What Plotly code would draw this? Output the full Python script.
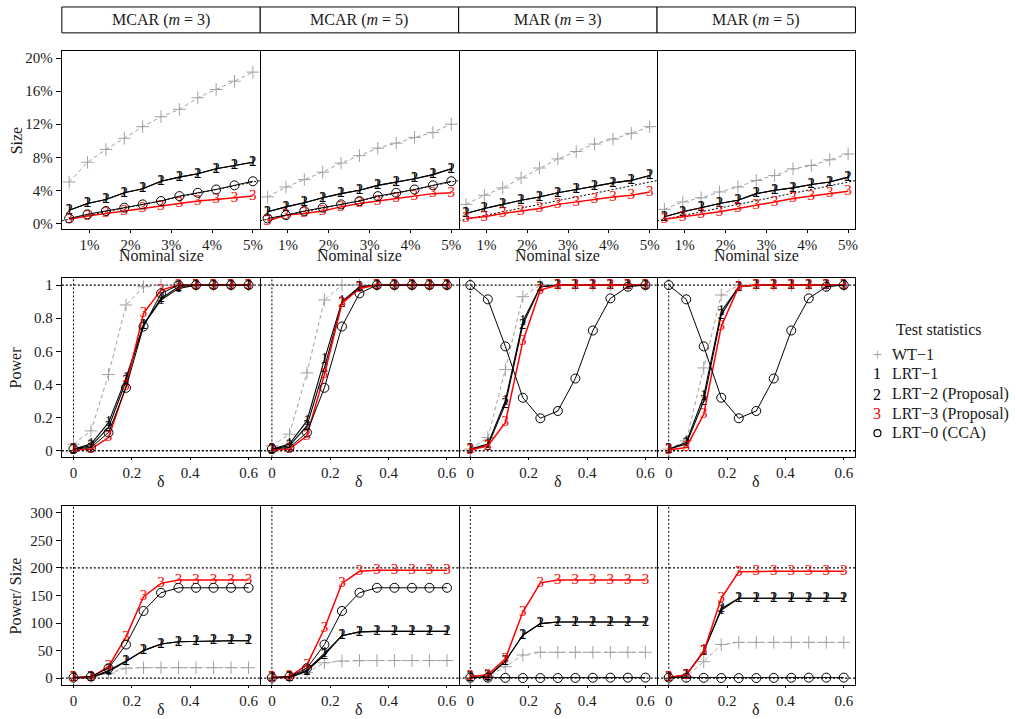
import plotly.graph_objects as go

W, H = 1016, 719
FONT = "Liberation Serif"

# ---- data -------------------------------------------------------------
strip_labels = ["MCAR (<i>m</i> = 3)", "MCAR (<i>m</i> = 5)",
                "MAR (<i>m</i> = 3)", "MAR (<i>m</i> = 5)"]

nominal = [0.5, 0.95, 1.4, 1.85, 2.3, 2.75, 3.2, 3.65, 4.1, 4.55, 5.0]
delta = [0, 0.06, 0.12, 0.18, 0.24, 0.30, 0.36, 0.42, 0.48, 0.54, 0.60]

# empirical size (%), one list per panel
size_wt1 = [
    [5.0, 7.4, 8.95, 10.3, 11.7, 12.9, 13.8, 15.2, 16.2, 17.2, 18.3],
    [3.2, 4.4, 5.3, 6.2, 7.3, 8.2, 9.1, 9.7, 10.4, 11.0, 12.0],
    [2.3, 3.4, 4.3, 5.5, 6.7, 7.8, 8.7, 9.6, 10.2, 10.9, 11.7],
    [1.7, 2.6, 3.1, 3.8, 4.4, 5.2, 5.8, 6.6, 7.0, 7.7, 8.4],
]
size_lrt1 = [
    [1.6, 2.4, 2.9, 3.7, 4.2, 5.1, 5.6, 6.0, 6.6, 7.0, 7.4],
    [1.4, 2.0, 2.5, 3.1, 3.6, 4.0, 4.6, 5.0, 5.4, 5.9, 6.6],
    [1.2, 1.8, 2.3, 2.8, 3.2, 3.7, 4.1, 4.5, 4.9, 5.2, 5.8],
    [0.8, 1.4, 1.9, 2.4, 2.8, 3.6, 4.0, 4.3, 4.7, 5.0, 5.6],
]
size_lrt2 = [
    [1.6, 2.4, 2.9, 3.7, 4.2, 5.1, 5.6, 6.0, 6.6, 7.0, 7.4],
    [1.4, 2.0, 2.5, 3.1, 3.6, 4.0, 4.6, 5.0, 5.4, 5.9, 6.6],
    [1.2, 1.8, 2.3, 2.8, 3.2, 3.7, 4.1, 4.5, 4.9, 5.2, 5.8],
    [0.8, 1.4, 1.9, 2.4, 2.8, 3.6, 4.0, 4.3, 4.7, 5.0, 5.6],
]
size_lrt3 = [
    [0.5, 0.9, 1.2, 1.5, 1.8, 2.1, 2.4, 2.7, 2.9, 3.1, 3.3],
    [0.3, 1.0, 1.2, 1.5, 2.0, 2.4, 2.7, 3.0, 3.3, 3.6, 3.7],
    [0.6, 0.8, 1.2, 1.5, 1.8, 2.3, 2.6, 2.9, 3.2, 3.4, 3.8],
    [0.5, 0.8, 1.1, 1.4, 1.8, 2.2, 2.6, 3.0, 3.3, 3.6, 3.9],
]
size_lrt0 = [
    [0.6, 1.1, 1.5, 1.9, 2.3, 2.7, 3.3, 3.7, 4.1, 4.6, 5.1],
    [0.6, 1.0, 1.5, 1.9, 2.3, 2.7, 3.3, 3.7, 4.1, 4.6, 5.1],
    None,
    None,
]

# empirical power, one list per panel
power_wt1 = [
    [0.04, 0.12, 0.46, 0.88, 0.99, 1.0, 1.0, 1.0, 1.0, 1.0, 1.0],
    [0.03, 0.10, 0.47, 0.91, 1.0, 1.0, 1.0, 1.0, 1.0, 1.0, 1.0],
    [0.01, 0.08, 0.49, 0.93, 1.0, 1.0, 1.0, 1.0, 1.0, 1.0, 1.0],
    [0.01, 0.06, 0.50, 0.94, 1.0, 1.0, 1.0, 1.0, 1.0, 1.0, 1.0],
]
power_lrt1 = [
    [0.01, 0.04, 0.17, 0.44, 0.76, 0.91, 0.98, 1.0, 1.0, 1.0, 1.0],
    [0.01, 0.04, 0.18, 0.55, 0.90, 0.99, 1.0, 1.0, 1.0, 1.0, 1.0],
    [0.01, 0.04, 0.30, 0.78, 0.99, 1.0, 1.0, 1.0, 1.0, 1.0, 1.0],
    [0.01, 0.05, 0.33, 0.84, 0.99, 1.0, 1.0, 1.0, 1.0, 1.0, 1.0],
]
power_lrt2 = [
    [0.01, 0.03, 0.14, 0.42, 0.76, 0.92, 0.99, 1.0, 1.0, 1.0, 1.0],
    [0.01, 0.03, 0.15, 0.50, 0.89, 0.99, 1.0, 1.0, 1.0, 1.0, 1.0],
    [0.01, 0.03, 0.28, 0.76, 0.99, 1.0, 1.0, 1.0, 1.0, 1.0, 1.0],
    [0.01, 0.04, 0.30, 0.82, 0.99, 1.0, 1.0, 1.0, 1.0, 1.0, 1.0],
]
power_lrt3 = [
    [0.005, 0.01, 0.08, 0.39, 0.83, 0.97, 1.0, 1.0, 1.0, 1.0, 1.0],
    [0.005, 0.01, 0.09, 0.46, 0.89, 0.98, 1.0, 1.0, 1.0, 1.0, 1.0],
    [0.005, 0.03, 0.17, 0.66, 0.97, 1.0, 1.0, 1.0, 1.0, 1.0, 1.0],
    [0.005, 0.02, 0.22, 0.75, 0.99, 1.0, 1.0, 1.0, 1.0, 1.0, 1.0],
]
power_lrt0 = [
    [0.01, 0.02, 0.11, 0.38, 0.75, 0.95, 1.0, 1.0, 1.0, 1.0, 1.0],
    [0.01, 0.02, 0.11, 0.38, 0.75, 0.95, 1.0, 1.0, 1.0, 1.0, 1.0],
    [1.0, 0.914, 0.63, 0.32, 0.196, 0.24, 0.436, 0.726, 0.92, 0.99, 1.0],
    [1.0, 0.914, 0.63, 0.32, 0.196, 0.24, 0.436, 0.726, 0.92, 0.99, 1.0],
]

# power divided by size, one list per panel
ratio_wt1 = [
    [1, 2, 9, 18, 19, 19, 19, 19, 19, 19, 19],
    [1, 2, 10, 28, 31, 32, 32, 32, 32, 32, 32],
    [1, 3, 21, 42, 47, 47, 47, 47, 47, 47, 47],
    [1, 3, 30, 61, 65, 65, 65, 65, 65, 65, 65],
]
ratio_lrt1 = [
    [1, 1, 12, 30, 50, 62, 66, 67, 68, 68, 68],
    [1, 2, 15, 45, 77, 84, 85, 85, 85, 85, 85],
    [1, 2, 31, 78, 99, 102, 102, 102, 102, 102, 102],
    [1, 5, 50, 123, 145, 145, 145, 145, 145, 145, 145],
]
ratio_lrt2 = [
    [1, 1, 14, 31, 50, 62, 66, 67, 68, 68, 68],
    [1, 1, 13, 42, 77, 84, 85, 85, 85, 85, 85],
    [1, 3, 31, 78, 99, 102, 102, 102, 102, 102, 102],
    [1, 6, 48, 126, 145, 145, 145, 145, 145, 145, 145],
]
ratio_lrt3 = [
    [1, 2, 21, 75, 148, 172, 178, 178, 178, 178, 178],
    [1, 3, 24, 90, 172, 194, 196, 196, 196, 196, 196],
    [3, 6, 35, 120, 173, 178, 178, 178, 178, 178, 178],
    [1, 6, 48, 145, 193, 194, 194, 194, 194, 194, 194],
]
ratio_lrt0 = [
    [1, 3, 18, 61, 122, 155, 164, 164, 164, 164, 164],
    [1, 3, 18, 61, 122, 155, 164, 164, 164, 164, 164],
    [1.0, 0.9, 0.6, 0.3, 0.2, 0.24, 0.44, 0.73, 0.92, 0.99, 1.0],
    [1.0, 0.9, 0.6, 0.3, 0.2, 0.24, 0.44, 0.73, 0.92, 0.99, 1.0],
]

legend_labels = ["WT−1", "LRT−1", "LRT−2 (Proposal)", "LRT−3 (Proposal)", "LRT−0 (CCA)"]

# ---- styling ----------------------------------------------------------
GRAY = "#a0a0a0"
RED = "#ff0000"
INK = "#1a1a1a"
STYLE = {
    "wt1": dict(kind="plus", color=GRAY, width=1.0, dash="4px,3px"),
    "lrt1": dict(kind="text", sym="1", color="black", width=1.1, dash="solid"),
    "lrt2": dict(kind="text", sym="2", color="black", width=1.1, dash="solid"),
    "lrt3": dict(kind="text", sym="3", color=RED, width=1.5, dash="solid"),
    "lrt0": dict(kind="circle", color="black", width=1.0, dash="solid"),
}

rows = [
    dict(x=nominal, series=dict(wt1=size_wt1, lrt1=size_lrt1, lrt2=size_lrt2,
                                lrt3=size_lrt3, lrt0=size_lrt0),
         xrange=[0.32, 5.18], xtickvals=[1, 2, 3, 4, 5],
         xticktext=["1%", "2%", "3%", "4%", "5%"],
         yrange=[-0.72, 20.88], ytickvals=[0, 4, 8, 12, 16, 20],
         yticktext=["0%", "4%", "8%", "12%", "16%", "20%"],
         top=50, bottom=229.3, ytitle="Size", xtitle="Nominal size",
         ytitle_y=140, xtitle_y=256, ticklen=3, standoff=-1),
    dict(x=delta, series=dict(wt1=power_wt1, lrt1=power_lrt1, lrt2=power_lrt2,
                              lrt3=power_lrt3, lrt0=power_lrt0),
         xrange=[-0.04, 0.64], xtickvals=[0, 0.2, 0.4, 0.6],
         xticktext=["0", "0.2", "0.4", "0.6"],
         yrange=[-0.04, 1.042], ytickvals=[0, 0.2, 0.4, 0.6, 0.8, 1],
         yticktext=["0", "0.2", "0.4", "0.6", "0.8", "1"],
         top=278.3, bottom=458.3, ytitle="Power", xtitle="δ",
         ytitle_y=368, xtitle_y=483, hlines=[0, 1], ticklen=2, standoff=0),
    dict(x=delta, series=dict(wt1=ratio_wt1, lrt1=ratio_lrt1, lrt2=ratio_lrt2,
                              lrt3=ratio_lrt3, lrt0=ratio_lrt0),
         xrange=[-0.04, 0.64], xtickvals=[0, 0.2, 0.4, 0.6],
         xticktext=["0", "0.2", "0.4", "0.6"],
         yrange=[-12.1, 313.2], ytickvals=[0, 50, 100, 150, 200, 250, 300],
         yticktext=["0", "50", "100", "150", "200", "250", "300"],
         top=506.7, bottom=686.7, ytitle="Power/ Size", xtitle="δ",
         ytitle_y=597, xtitle_y=711, hlines=[0, 200], ticklen=2, standoff=0),
]

col_edges = [62, 261, 460, 659, 858]
STRIP_TOP, STRIP_BOTTOM = 6, 32


def px_x(v):
    return v / W


def px_y(v):
    return 1 - v / H


fig = go.Figure()
layout = dict(width=W, height=H, margin=dict(l=0, r=0, t=0, b=0),
              paper_bgcolor="white", plot_bgcolor="white", showlegend=False,
              font=dict(family=FONT, size=15, color=INK))
shapes, annotations = [], []

order = ["wt1", "lrt1", "lrt2", "lrt3", "lrt0"]

for r, row in enumerate(rows):
    for c in range(4):
        k = r * 4 + c + 1
        xa = "xaxis" if k == 1 else f"xaxis{k}"
        ya = "yaxis" if k == 1 else f"yaxis{k}"
        xr = "x" if k == 1 else f"x{k}"
        yr = "y" if k == 1 else f"y{k}"
        layout[xa] = dict(
            domain=[px_x(col_edges[c]), px_x(col_edges[c + 1])],
            anchor=yr, range=row["xrange"], tickvals=row["xtickvals"],
            ticktext=row["xticktext"], ticks="outside", ticklen=row["ticklen"],
            ticklabelstandoff=row["standoff"],
            tickcolor="black", showline=True, linecolor="black", linewidth=1,
            mirror=True, showgrid=False, zeroline=False,
            tickfont=dict(family=FONT, size=15, color=INK))
        # first panel draws both side borders; the others only their right
        # border, so shared dividers stay a single line
        layout[ya] = dict(
            domain=[px_y(row["bottom"]), px_y(row["top"])],
            anchor=xr, range=row["yrange"], tickvals=row["ytickvals"],
            ticktext=row["yticktext"], ticks="outside" if c == 0 else "",
            ticklen=5, tickcolor="black", showticklabels=(c == 0),
            side="left" if c == 0 else "right",
            showline=True, linecolor="black", linewidth=1, mirror=(c == 0),
            showgrid=False, zeroline=False,
            tickfont=dict(family=FONT, size=15, color=INK))

        # reference guides
        if r == 0:
            lo, hi = row["xrange"]
            shapes.append(dict(type="line", xref=xr, yref=yr, x0=lo, y0=lo,
                               x1=hi, y1=hi, layer="below",
                               line=dict(color="black", width=1, dash="2px,2px")))
        else:
            shapes.append(dict(type="line", xref=xr, yref=f"{yr} domain",
                               x0=0, x1=0, y0=0, y1=1, layer="below",
                               line=dict(color="black", width=1, dash="2px,2px")))
            for hv in row["hlines"]:
                shapes.append(dict(type="line", xref=f"{xr} domain", yref=yr,
                                   x0=0, x1=1, y0=hv, y1=hv, layer="below",
                                   line=dict(color="black", width=1.3,
                                             dash="2px,2px")))

        for key in order:
            vals = row["series"][key][c]
            if vals is None:
                continue
            st = STYLE[key]
            line = dict(color=st["color"], width=st["width"], dash=st["dash"])
            if st["kind"] == "text":
                fig.add_trace(go.Scatter(
                    x=row["x"], y=vals, xaxis=xr, yaxis=yr,
                    mode="lines+text", text=[st["sym"]] * len(vals),
                    textposition="middle center",
                    textfont=dict(family=FONT, size=15, color=st["color"]),
                    line=line, hoverinfo="skip", cliponaxis=False))
            elif st["kind"] == "plus":
                fig.add_trace(go.Scatter(
                    x=row["x"], y=vals, xaxis=xr, yaxis=yr,
                    mode="lines+markers", line=line,
                    marker=dict(symbol="cross-thin", size=9,
                                line=dict(color=st["color"], width=1)),
                    hoverinfo="skip"))
            else:
                fig.add_trace(go.Scatter(
                    x=row["x"], y=vals, xaxis=xr, yaxis=yr,
                    mode="lines+markers", line=line,
                    marker=dict(symbol="circle-open", size=9,
                                color="black", line=dict(color="black", width=1)),
                    hoverinfo="skip", cliponaxis=False))

        # per-panel x title
        annotations.append(dict(
            text=row["xtitle"], xref="paper", yref="paper",
            x=px_x((col_edges[c] + col_edges[c + 1]) / 2), y=px_y(row["xtitle_y"]),
            showarrow=False, xanchor="center", yanchor="middle",
            font=dict(family=FONT, size=16, color=INK)))

    # row y title
    annotations.append(dict(
        text=row["ytitle"], xref="paper", yref="paper", x=px_x(16),
        y=px_y(row["ytitle_y"]), showarrow=False, textangle=-90,
        xanchor="center", yanchor="middle",
        font=dict(family=FONT, size=16, color=INK)))

# strips
for c, lab in enumerate(strip_labels):
    shapes.append(dict(type="rect", xref="paper", yref="paper",
                       x0=px_x(col_edges[c]), x1=px_x(col_edges[c + 1]),
                       y0=px_y(STRIP_BOTTOM), y1=px_y(STRIP_TOP),
                       line=dict(color="black", width=1), fillcolor="white"))
    annotations.append(dict(
        text=lab, xref="paper", yref="paper",
        x=px_x((col_edges[c] + col_edges[c + 1]) / 2),
        y=px_y((STRIP_TOP + STRIP_BOTTOM) / 2), showarrow=False,
        xanchor="center", yanchor="middle",
        font=dict(family=FONT, size=16, color=INK)))

# key
annotations.append(dict(text="Test statistics", xref="paper", yref="paper",
                        x=px_x(942), y=px_y(330), showarrow=False,
                        xanchor="center", yanchor="middle",
                        font=dict(family=FONT, size=16, color=INK)))
key_y = [355, 374.5, 395, 414.5, 434]
key_sym = [("+", GRAY), ("1", "black"), ("2", "black"), ("3", RED), (None, "black")]
for lab, ky, (sym, col) in zip(legend_labels, key_y, key_sym):
    if sym is not None:
        annotations.append(dict(text=sym, xref="paper", yref="paper",
                                x=px_x(880), y=px_y(ky), showarrow=False,
                                xanchor="center", yanchor="middle",
                                font=dict(family=FONT, size=16, color=col)))
    else:
        shapes.append(dict(type="circle", xref="paper", yref="paper",
                           x0=px_x(876.5), x1=px_x(883.5),
                           y0=px_y(ky + 3.5), y1=px_y(ky - 3.5),
                           line=dict(color="black", width=1.2)))
    annotations.append(dict(text=lab, xref="paper", yref="paper",
                            x=px_x(893), y=px_y(ky), showarrow=False,
                            xanchor="left", yanchor="middle",
                            font=dict(family=FONT, size=16, color=INK)))

layout["shapes"] = shapes
layout["annotations"] = annotations
fig.update_layout(**layout)
fig.write_html("out.html")
